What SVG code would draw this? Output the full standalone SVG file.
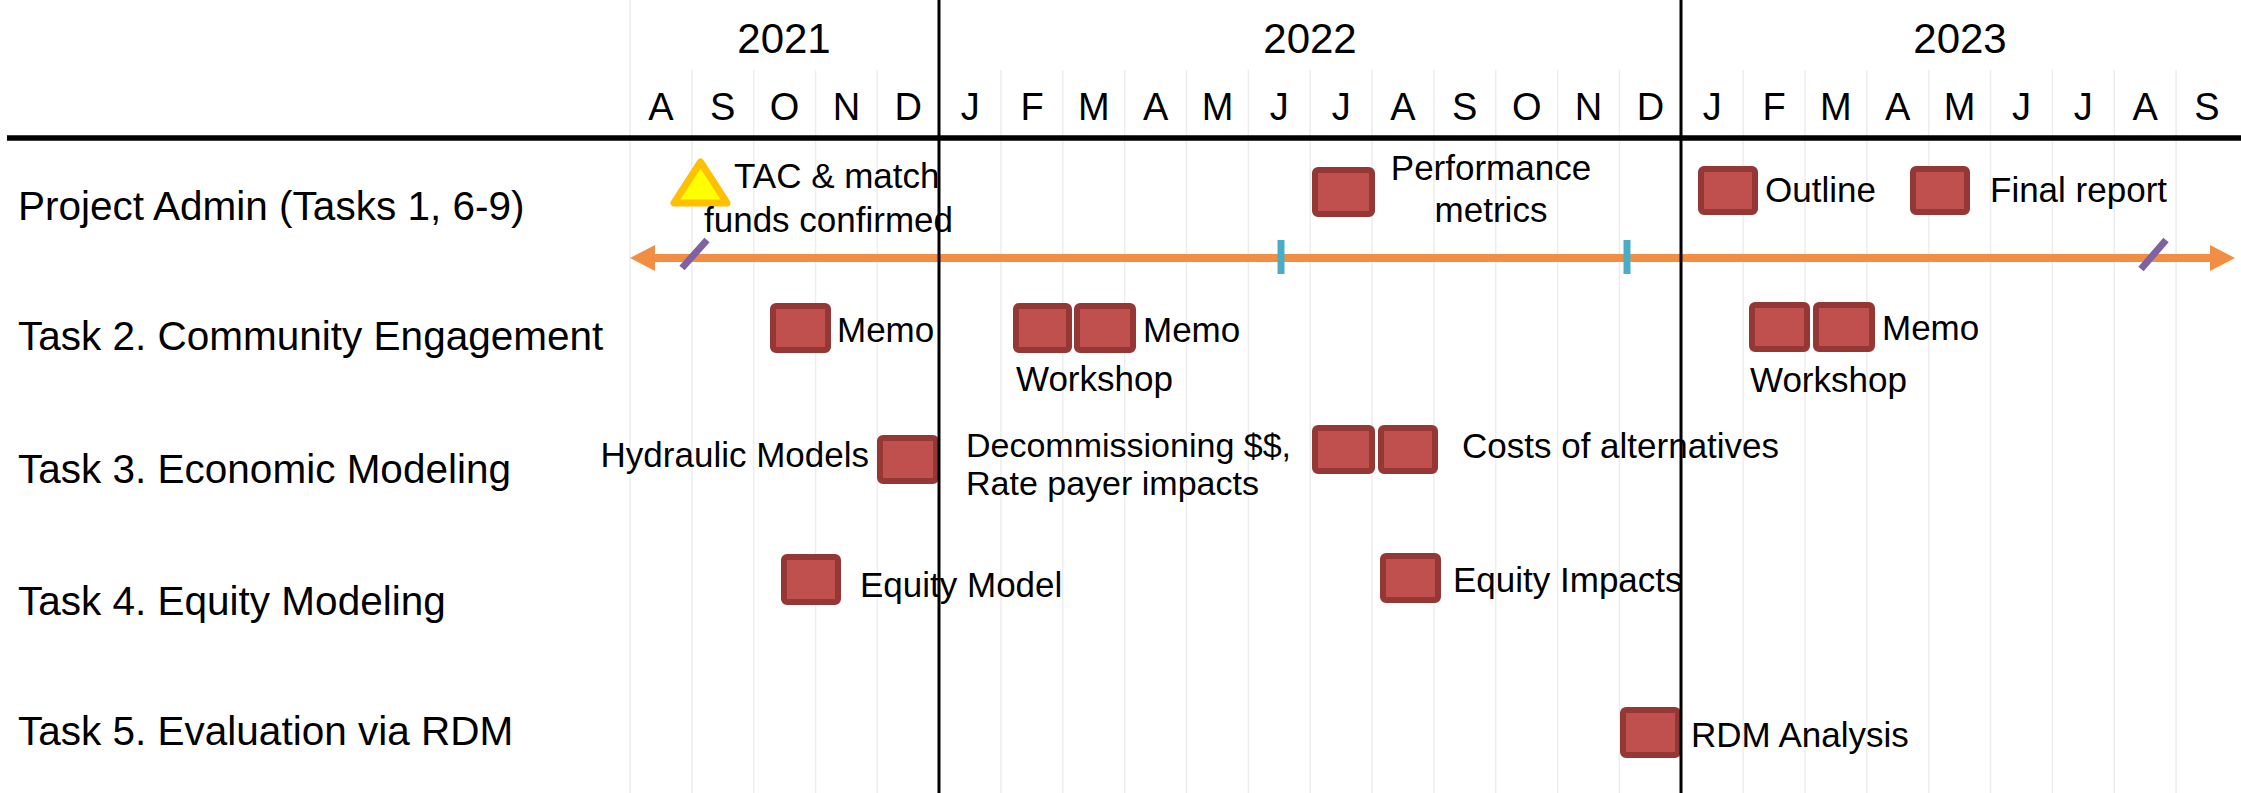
<svg xmlns="http://www.w3.org/2000/svg" width="2241" height="793" viewBox="0 0 2241 793">
<style>
text{font-family:"Liberation Sans",Arial,sans-serif;fill:#000}
.yr{font-size:42px;text-anchor:middle}
.mo{font-size:38px;text-anchor:middle}
.row{font-size:40.5px}
.lbl{font-size:35px}
.lbl2{font-size:34px}
.box{fill:#C0504D;stroke:#953735;stroke-width:6;stroke-linejoin:round}
.grid{stroke:#EDEDED;stroke-width:1.5}
.yline{stroke:#000;stroke-width:3}
.tick{stroke:#4BACC6;stroke-width:7}
.slash{stroke:#7F63A1;stroke-width:7}
</style>
<defs>
<marker id="ah" viewBox="0 0 25 26" refX="0" refY="13" markerWidth="25" markerHeight="26" markerUnits="userSpaceOnUse" orient="auto-start-reverse">
<path d="M0,0 L25,13 L0,26 z" fill="#F28E43"/>
</marker>
</defs>
<rect width="2241" height="793" fill="#fff"/>
<g id="grid">
<line class="grid" x1="630" y1="0" x2="630" y2="793"/>
<line class="grid" x1="691.85" y1="70" x2="691.85" y2="793"/>
<line class="grid" x1="753.7" y1="70" x2="753.7" y2="793"/>
<line class="grid" x1="815.55" y1="70" x2="815.55" y2="793"/>
<line class="grid" x1="877.4" y1="70" x2="877.4" y2="793"/>
<line class="grid" x1="1000.95" y1="70" x2="1000.95" y2="793"/>
<line class="grid" x1="1062.8" y1="70" x2="1062.8" y2="793"/>
<line class="grid" x1="1124.65" y1="70" x2="1124.65" y2="793"/>
<line class="grid" x1="1186.5" y1="70" x2="1186.5" y2="793"/>
<line class="grid" x1="1248.35" y1="70" x2="1248.35" y2="793"/>
<line class="grid" x1="1310.2" y1="70" x2="1310.2" y2="793"/>
<line class="grid" x1="1372.05" y1="70" x2="1372.05" y2="793"/>
<line class="grid" x1="1433.9" y1="70" x2="1433.9" y2="793"/>
<line class="grid" x1="1495.75" y1="70" x2="1495.75" y2="793"/>
<line class="grid" x1="1557.6" y1="70" x2="1557.6" y2="793"/>
<line class="grid" x1="1619.45" y1="70" x2="1619.45" y2="793"/>
<line class="grid" x1="1743.15" y1="70" x2="1743.15" y2="793"/>
<line class="grid" x1="1805" y1="70" x2="1805" y2="793"/>
<line class="grid" x1="1866.85" y1="70" x2="1866.85" y2="793"/>
<line class="grid" x1="1928.7" y1="70" x2="1928.7" y2="793"/>
<line class="grid" x1="1990.55" y1="70" x2="1990.55" y2="793"/>
<line class="grid" x1="2052.4" y1="70" x2="2052.4" y2="793"/>
<line class="grid" x1="2114.25" y1="70" x2="2114.25" y2="793"/>
<line class="grid" x1="2176.1" y1="70" x2="2176.1" y2="793"/>
</g>
<g id="header">
<text class="yr" x="784" y="53">2021</text>
<text class="yr" x="1310" y="53">2022</text>
<text class="yr" x="1960" y="53">2023</text>
<text class="mo" x="661" y="120">A</text>
<text class="mo" x="722.8" y="120">S</text>
<text class="mo" x="784.6" y="120">O</text>
<text class="mo" x="846.5" y="120">N</text>
<text class="mo" x="908.3" y="120">D</text>
<text class="mo" x="970.2" y="120">J</text>
<text class="mo" x="1032" y="120">F</text>
<text class="mo" x="1093.8" y="120">M</text>
<text class="mo" x="1155.7" y="120">A</text>
<text class="mo" x="1217.5" y="120">M</text>
<text class="mo" x="1279.3" y="120">J</text>
<text class="mo" x="1341.2" y="120">J</text>
<text class="mo" x="1403" y="120">A</text>
<text class="mo" x="1464.8" y="120">S</text>
<text class="mo" x="1526.7" y="120">O</text>
<text class="mo" x="1588.5" y="120">N</text>
<text class="mo" x="1650.4" y="120">D</text>
<text class="mo" x="1712.2" y="120">J</text>
<text class="mo" x="1774" y="120">F</text>
<text class="mo" x="1835.9" y="120">M</text>
<text class="mo" x="1897.7" y="120">A</text>
<text class="mo" x="1959.6" y="120">M</text>
<text class="mo" x="2021.4" y="120">J</text>
<text class="mo" x="2083.3" y="120">J</text>
<text class="mo" x="2145.1" y="120">A</text>
<text class="mo" x="2207" y="120">S</text>
<line x1="7" y1="138" x2="2241" y2="138" stroke="#000" stroke-width="5.5"/>
</g>
<g id="row-labels">
<text class="row" x="18" y="220">Project Admin (Tasks 1, 6-9)</text>
<text class="row" x="18" y="350">Task 2. Community Engagement</text>
<text class="row" x="18" y="483">Task 3. Economic Modeling</text>
<text class="row" x="18" y="615">Task 4. Equity Modeling</text>
<text class="row" x="18" y="745">Task 5. Evaluation via RDM</text>
</g>
<g id="connectors">
<line x1="655" y1="258" x2="2210" y2="258" stroke="#F28E43" stroke-width="8" marker-start="url(#ah)" marker-end="url(#ah)"/>
<line class="slash" x1="682" y1="268" x2="707" y2="240"/>
<line class="slash" x1="2141" y1="269" x2="2166" y2="240"/>
<line class="tick" x1="1281" y1="240" x2="1281" y2="274"/>
<line class="tick" x1="1627" y1="240" x2="1627" y2="274"/>
</g>
<g id="node-tac">
<path d="M700.5,162 L674,203 L727,203 Z" fill="#FFFF00" stroke="#FFC000" stroke-width="7" stroke-linejoin="round"/>
<text class="lbl" x="734" y="188">TAC &amp; match</text>
<text class="lbl" x="704" y="232">funds confirmed</text>
</g>
<g id="node-performance">
<rect class="box" x="1315" y="170" width="57" height="44" rx="3"/>
<text class="lbl" x="1491" y="180" text-anchor="middle">Performance</text>
<text class="lbl" x="1491" y="222" text-anchor="middle">metrics</text>
</g>
<g id="node-outline">
<rect class="box" x="1701" y="169" width="54" height="43" rx="3"/>
<text class="lbl" x="1765" y="202">Outline</text>
</g>
<g id="node-final">
<rect class="box" x="1913" y="169" width="54" height="43" rx="3"/>
<text class="lbl" x="1990" y="202">Final report</text>
</g>
<g id="node-memo-2021">
<rect class="box" x="773" y="306" width="55" height="44" rx="3"/>
<text class="lbl" x="837" y="342">Memo</text>
</g>
<g id="node-workshop-2022">
<rect class="box" x="1016" y="306" width="53" height="44" rx="3"/>
<rect class="box" x="1077" y="306" width="56" height="44" rx="3"/>
<text class="lbl" x="1143" y="342">Memo</text>
<text class="lbl" x="1016" y="391">Workshop</text>
</g>
<g id="node-workshop-2023">
<rect class="box" x="1752" y="305" width="55" height="44" rx="3"/>
<rect class="box" x="1816" y="305" width="56" height="44" rx="3"/>
<text class="lbl" x="1882" y="340">Memo</text>
<text class="lbl" x="1750" y="392">Workshop</text>
</g>
<g id="node-hydraulic">
<text class="lbl" x="869" y="467" text-anchor="end">Hydraulic Models</text>
<rect class="box" x="880" y="438" width="56" height="43" rx="3"/>
</g>
<g id="node-costs">
<text class="lbl2" x="966" y="457">Decommissioning $$,</text>
<text class="lbl2" x="966" y="495">Rate payer impacts</text>
<rect class="box" x="1315" y="428" width="57" height="43" rx="3"/>
<rect class="box" x="1381" y="428" width="54" height="43" rx="3"/>
<text class="lbl" x="1462" y="458">Costs of alternatives</text>
</g>
<g id="node-equity-model">
<rect class="box" x="784" y="557" width="54" height="45" rx="3"/>
<text class="lbl" x="860" y="597">Equity Model</text>
</g>
<g id="node-equity-impacts">
<rect class="box" x="1383" y="556" width="55" height="44" rx="3"/>
<text class="lbl" x="1453" y="592">Equity Impacts</text>
</g>
<g id="node-rdm">
<rect class="box" x="1623" y="710" width="55" height="45" rx="3"/>
<text class="lbl" x="1691" y="747">RDM Analysis</text>
</g>
<g id="year-lines">
<line class="yline" x1="939" y1="0" x2="939" y2="793"/>
<line class="yline" x1="1681" y1="0" x2="1681" y2="793"/>
</g>
</svg>
